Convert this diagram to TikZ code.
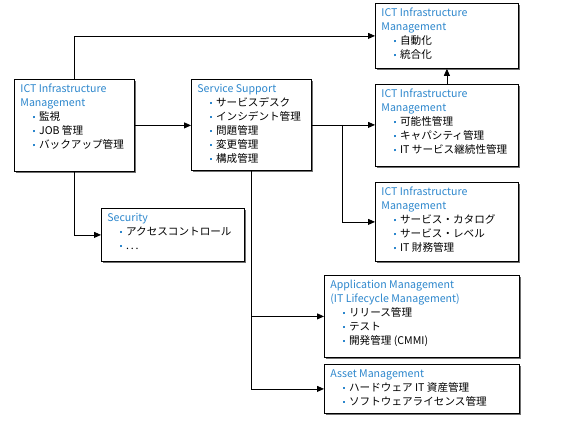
\documentclass[tikz,border=0pt]{standalone}
\usepackage{fontspec}
\setmainfont{Noto Sans CJK JP}
\usetikzlibrary{arrows.meta,shadows}
\definecolor{titleblue}{RGB}{45,135,205}
\newcommand{\ttl}[1]{{\color{titleblue}#1}}
\newcommand{\itm}[1]{\hspace*{12.5pt}{\color{titleblue}\rule[2.6pt]{2pt}{2pt}}\hspace{4.2pt}#1}
\newcommand{\boxtext}[3]{\parbox[t][#2][t]{#1}{\fontsize{10.6pt}{14pt}\selectfont #3}}

\begin{document}
\begin{tikzpicture}[x=1pt,y=-1pt]
\useasboundingbox (0,0) rectangle (580,421);
\begin{scope}[every node/.style={draw,thick,fill=white,anchor=north west,
              inner xsep=6pt,inner ysep=5pt,
              drop shadow={shadow xshift=1.5pt,shadow yshift=-1.5pt,fill=black!70,opacity=.8}}]
    \node (ictL) at (14,79) {\boxtext{108pt}{82pt}{\ttl{ICT Infrastructure}\\\ttl{Management}\\
        \itm{監視}\\\itm{JOB 管理}\\\itm{バックアップ管理}}};
    \node (ss) at (191,79) {\boxtext{108pt}{81pt}{\ttl{Service Support}\\
        \itm{サービスデスク}\\\itm{インシデント管理}\\\itm{問題管理}\\\itm{変更管理}\\\itm{構成管理}}};
    \node (top) at (375,3) {\boxtext{131pt}{55pt}{\ttl{ICT Infrastructure}\\\ttl{Management}\\
        \itm{自動化}\\\itm{統合化}}};
    \node (cap) at (375,84) {\boxtext{131pt}{72pt}{\ttl{ICT Infrastructure}\\\ttl{Management}\\
        \itm{可能性管理}\\\itm{キャパシティ管理}\\\itm{IT サービス継続性管理}}};
    \node (fin) at (375,182) {\boxtext{131pt}{69pt}{\ttl{ICT Infrastructure}\\\ttl{Management}\\
        \itm{サービス・カタログ}\\\itm{サービス・レベル}\\\itm{IT 財務管理}}};
    \node (sec) at (101,208) {\boxtext{131pt}{43pt}{\ttl{Security}\\
        \itm{アクセスコントロール}\\\itm{.\,.\,.}}};
    \node (app) at (324,275) {\boxtext{183pt}{72pt}{\ttl{Application Management}\\\ttl{(IT Lifecycle Management)}\\
        \itm{リリース管理}\\\itm{テスト}\\\itm{開発管理 (CMMI)}}};
    \node (asset) at (324,364) {\boxtext{183pt}{39pt}{\ttl{Asset Management}\\
        \itm{ハードウェア IT 資産管理}\\\itm{ソフトウェアライセンス管理}}};
\end{scope}
\begin{scope}[every path/.style={draw,thick,-{Triangle[length=7pt,width=6pt]}}]
    \path (ictL.north) |- (top.west);
    \path (ictL.east) -- (ictL.east -| ss.west);
    \path (ictL.south) |- (sec.west);
    \path (ss.east) -- coordinate[pos=.48] (br) (ss.east -| cap.west);
    \path (br) |- (fin.west);
    \path (cap.north) -- (top.south);
    \path (ss.south) |- (app.west);
    \path (ss.south) |- (asset.west);
\end{scope}
\end{tikzpicture}
\end{document}
